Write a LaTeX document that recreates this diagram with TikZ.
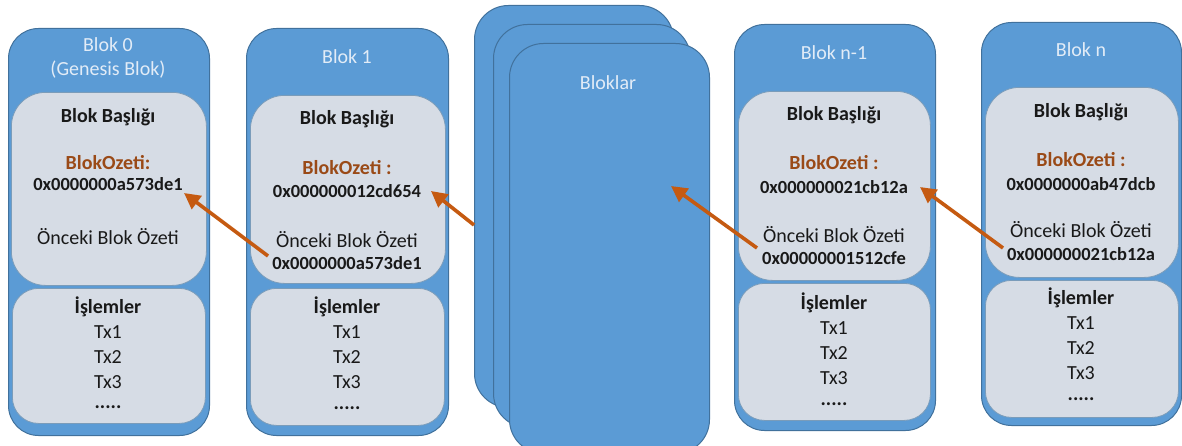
\documentclass[tikz,border=0pt]{standalone}
\usepackage{fontspec}
\setmainfont{Carlito}
\usetikzlibrary{arrows.meta}
\definecolor{blokblue}{HTML}{5B9BD5}
\definecolor{blokedge}{HTML}{41719C}
\definecolor{innerfill}{HTML}{D6DCE5}
\definecolor{titletext}{HTML}{E2ECF7}
\definecolor{hashbrown}{HTML}{9A4A17}
\definecolor{linkorange}{HTML}{C55A11}
\tikzset{
  outerbox/.style={draw=blokedge, fill=blokblue, line width=1pt, rounded corners=30pt, anchor=north west, inner sep=0pt},
  stackcard/.style={draw=blokedge, fill=blokblue, line width=1pt, rounded corners=34pt, anchor=north west, inner sep=0pt},
  headbox/.style={draw=blokedge!70, fill=innerfill, line width=0.8pt, rounded corners=34pt, anchor=north west, inner sep=0pt},
  txbox/.style={draw=blokedge!70, fill=innerfill, line width=0.8pt, rounded corners=26pt, anchor=north west, inner sep=0pt},
  txt/.style={inner sep=0pt, font=\fontsize{20}{24}\selectfont, text=black!90},
  ttl/.style={txt, text=titletext},
  bld/.style={txt, font=\fontsize{20}{24}\selectfont\bfseries},
  hex/.style={txt, font=\fontsize{18.5}{22}\selectfont\bfseries},
  hsh/.style={txt, font=\fontsize{20}{24}\selectfont\bfseries, text=hashbrown},
  link/.style={draw=linkorange, line width=3.6pt, -{Triangle[length=16pt,width=16pt]}},
}
\begin{document}
\begin{tikzpicture}[x=1pt, y=-1pt]
\useasboundingbox (0,0) rectangle (1182,446);

% ---- Blok 0 ----
\node[outerbox, minimum width=201pt, minimum height=407pt] (b0) at (8,28) {};
\node[headbox, minimum width=195pt, minimum height=193pt] (b0h) at (11,92) {};
\node[txbox, minimum width=193pt, minimum height=135pt] (b0t) at (12,288) {};
\node[ttl] (b0n) at (108,45) {Blok 0};
\node[ttl] (b0g) at (108,70) {(Genesis Blok)};
\node[bld] (b0bb) at (108,117) {Blok Başlığı};
\node[hsh] (b0oz) at (108,163) {BlokOzeti:};
\node[hex] (b0hash) at (108,184) {0x0000000a573de1};
\node[txt] (b0on) at (108,237) {Önceki Blok Özeti};
\node[bld] (b0is) at (108,307) {İşlemler};
\node[txt] (b0t1) at (108,332) {Tx1};
\node[txt] (b0t2) at (108,357) {Tx2};
\node[txt] (b0t3) at (108,382) {Tx3};
\node[bld] (b0d) at (108,407) {.....};

% ---- Blok 1 ----
\node[outerbox, minimum width=202pt, minimum height=407pt] (b1) at (246,28) {};
\node[headbox, minimum width=195pt, minimum height=188pt] (b1h) at (250,95) {};
\node[txbox, minimum width=194pt, minimum height=137pt] (b1t) at (250,288) {};
\node[ttl] (b1n) at (347,57) {Blok 1};
\node[bld] (b1bb) at (347,119) {Blok Başlığı};
\node[hsh] (b1oz) at (347,168) {BlokOzeti :};
\node[hex] (b1hash) at (347,191) {0x000000012cd654};
\node[txt] (b1on) at (347,240) {Önceki Blok Özeti};
\node[hex] (b1prev) at (347,263) {0x0000000a573de1};
\node[bld] (b1is) at (347,307) {İşlemler};
\node[txt] (b1t1) at (347,332) {Tx1};
\node[txt] (b1t2) at (347,357) {Tx2};
\node[txt] (b1t3) at (347,382) {Tx3};
\node[bld] (b1d) at (347,408) {.....};

% ---- stacked intermediate blocks ----
\node[stackcard, minimum width=199pt, minimum height=402pt] (s1) at (474,5) {};
\node[stackcard, minimum width=197pt, minimum height=403pt] (s2) at (493,24) {};
\node[stackcard, minimum width=200pt, minimum height=410pt] (s3) at (509,43) {};
\node[ttl] (sl) at (608,83) {Bloklar};

% ---- Blok n-1 ----
\node[outerbox, minimum width=201pt, minimum height=406pt] (bm) at (734,24) {};
\node[headbox, minimum width=192pt, minimum height=189pt] (bmh) at (738,91) {};
\node[txbox, minimum width=192pt, minimum height=137pt] (bmt) at (738,283) {};
\node[ttl] (bmn) at (834,53) {Blok n-1};
\node[bld] (bmbb) at (834,115) {Blok Başlığı};
\node[hsh] (bmoz) at (834,163) {BlokOzeti :};
\node[hex] (bmhash) at (834,187) {0x000000021cb12a};
\node[txt] (bmon) at (834,235) {Önceki Blok Özeti};
\node[hex] (bmprev) at (834,258) {0x00000001512cfe};
\node[bld] (bmis) at (834,303) {İşlemler};
\node[txt] (bmt1) at (834,328) {Tx1};
\node[txt] (bmt2) at (834,353) {Tx2};
\node[txt] (bmt3) at (834,378) {Tx3};
\node[bld] (bmd) at (834,404) {.....};

% ---- Blok n ----
\node[outerbox, minimum width=200pt, minimum height=403pt] (bn) at (981,22) {};
\node[headbox, minimum width=193pt, minimum height=190pt] (bnh) at (985,87) {};
\node[txbox, minimum width=193pt, minimum height=137pt] (bnt) at (985,280) {};
\node[ttl] (bnn) at (1081,50) {Blok n};
\node[bld] (bnbb) at (1081,112) {Blok Başlığı};
\node[hsh] (bnoz) at (1081,160) {BlokOzeti :};
\node[hex] (bnhash) at (1081,184) {0x0000000ab47dcb};
\node[txt] (bnon) at (1081,230) {Önceki Blok Özeti};
\node[hex] (bnprev) at (1081,254) {0x000000021cb12a};
\node[bld] (bnis) at (1081,298) {İşlemler};
\node[txt] (bnt1) at (1081,323) {Tx1};
\node[txt] (bnt2) at (1081,348) {Tx2};
\node[txt] (bnt3) at (1081,373) {Tx3};
\node[bld] (bnd) at (1081,399) {.....};

% ---- hash links pointing back to the previous block ----
\coordinate (l1s) at (268,256);
\coordinate (l1e) at (184,193);
\coordinate (l2s) at (474,225);
\coordinate (l2e) at (431,191);
\coordinate (l3s) at (757,248);
\coordinate (l3e) at (671,186);
\coordinate (l4s) at (1003,248);
\coordinate (l4e) at (920,187);
\draw[link] (l1s) -- (l1e);
\draw[link] (l2s) -- (l2e);
\draw[link] (l3s) -- (l3e);
\draw[link] (l4s) -- (l4e);
\end{tikzpicture}
\end{document}
